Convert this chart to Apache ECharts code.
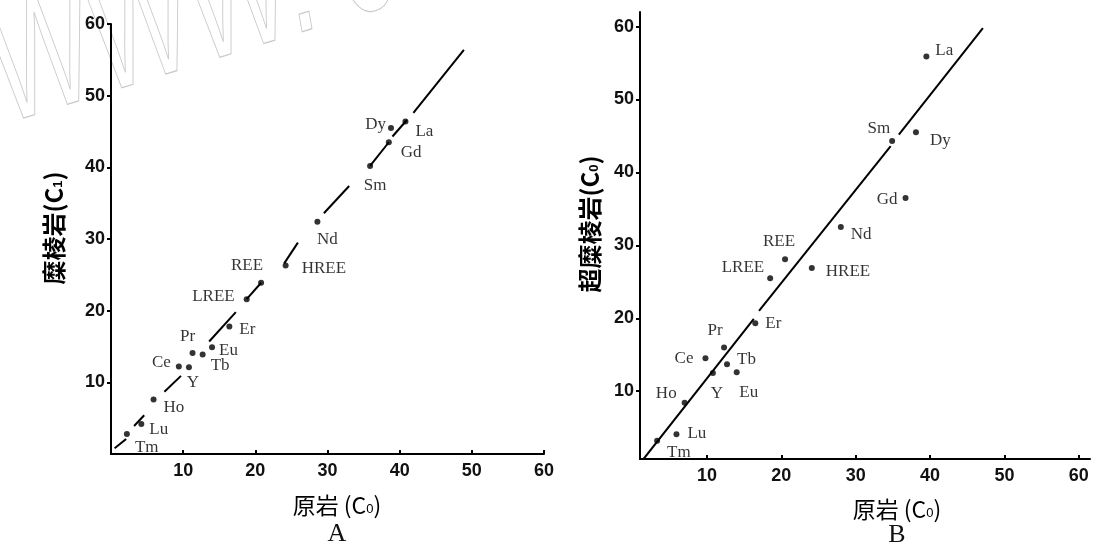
<!DOCTYPE html>
<html><head><meta charset="utf-8">
<script src="https://cdn.jsdelivr.net/npm/echarts@6/dist/echarts.min.js"></script>
<style>html,body{margin:0;padding:0;background:#fff}#c{width:1094px;height:548px}</style>
</head><body><div id="c"></div>
<script>
// ---- data ----
const elements = ['Tm','Lu','Ho','Ce','Y','Pr','Tb','Eu','Er','LREE','REE','HREE','Nd','Sm','Gd','Dy','La'];
// Panel A: protolith (C0) vs mylonite (C1)
const protolithA = [2.2, 4.2, 5.9, 9.4, 10.8, 11.3, 12.7, 14.0, 16.4, 18.8, 20.8, 24.2, 28.6, 35.9, 38.5, 38.8, 40.8];
const myloniteA  = [2.8, 4.2, 7.6, 12.2, 12.1, 14.1, 13.9, 14.9, 17.8, 21.6, 23.9, 26.3, 32.4, 40.2, 43.5, 45.5, 46.4];
// Panel B: protolith (C0) vs ultramylonite
const protolithB = [3.3, 5.9, 7.0, 9.8, 10.8, 12.3, 12.7, 14.0, 16.5, 18.5, 20.5, 24.1, 28.0, 34.9, 36.7, 38.1, 39.5];
const ultraB     = [3.2, 4.1, 8.4, 14.5, 12.5, 16.0, 13.7, 12.6, 19.3, 25.5, 28.1, 26.9, 32.5, 44.3, 36.5, 45.5, 55.9];
const tickValues = [10, 20, 30, 40, 50, 60];
// reference line pieces [x1, y1, x2, y2]
const lineA = [[0.5,0.8,2.1,2.1],[3.2,3.9,4.6,5.4],[7.4,8.7,9.7,10.9],[13.6,15.7,17.3,19.8],[18.8,21.6,20.8,23.9],
               [24.0,26.6,25.9,29.5],[29.5,33.6,33.0,37.4],[35.9,40.2,38.5,43.5],[39.0,44.3,41.0,46.6],[41.9,47.6,48.9,56.4]];
const lineB = [[1.4,0.6,16.3,19.9],[17.0,21.0,34.7,43.6],[35.8,45.2,47.1,59.8]];

// ---- label placement (style) ----
const labPosA = {Tm:['right',[0,14]],Lu:['right',[0,6]],Ho:['right',[2,8]],Ce:['left',[0,-4]],Y:['bottom',[4,-1]],
  Pr:['top',[-5,0]],Tb:['right',[0,11]],Eu:['right',[-1,3]],Er:['right',[2,3]],LREE:['left',[-4,-3]],REE:['left',[10,-17]],
  HREE:['right',[8,3]],Nd:['bottom',[10,1]],Sm:['bottom',[5,3]],Gd:['right',[4,10]],Dy:['left',[3,-3]],La:['right',[2,10]]};
const labPosB = {Tm:['right',[2,12]],Lu:['right',[3,-1]],Ho:['left',[0,-9]],Ce:['left',[-4,0]],Y:['bottom',[4,4]],
  Pr:['top',[-9,0]],Tb:['right',[2,-5]],Eu:['bottom',[12,4]],Er:['right',[2,0]],LREE:['left',[2,-11]],REE:['top',[-6,-1]],
  HREE:['right',[6,4]],Nd:['right',[2,7]],Sm:['left',[6,-13]],Gd:['left',[0,2]],Dy:['right',[6,8]],La:['right',[1,-6]]};

const serif = '"Liberation Serif", "DejaVu Serif", serif';
const sans = '"Liberation Sans", Arial, sans-serif';
const cjk = '"Noto Sans CJK SC", sans-serif';

function pts(xs, ys, pos) {
  return elements.map((n, i) => ({
    name: n, value: [xs[i], ys[i]],
    label: {show: true, formatter: n, position: pos[n][0], offset: pos[n][1], distance: 5}
  }));
}
function segSeries(segs, gi) {
  return segs.map(s => ({
    type: 'line', xAxisIndex: gi, yAxisIndex: gi, symbol: 'none', silent: true,
    lineStyle: {color: '#000', width: 2}, data: [[s[0], s[1]], [s[2], s[3]]], z: 2
  }));
}
const tickLabel = {customValues: tickValues, color: '#111', fontSize: 18, fontWeight: 'bold', fontFamily: sans};
function xAx(gi, min, max) {
  return {gridIndex: gi, type: 'value', min: min, max: max,
    axisLine: {show: true, onZero: false, lineStyle: {color: '#000', width: 2}},
    axisTick: {show: true, inside: true, length: 4, customValues: tickValues, lineStyle: {color: '#000', width: 2}},
    axisLabel: Object.assign({margin: 8}, tickLabel),
    splitLine: {show: false}};
}
function yAx(gi, min, max) {
  return {gridIndex: gi, type: 'value', min: min, max: max,
    axisLine: {show: true, onZero: false, lineStyle: {color: '#000', width: 2}},
    axisTick: {show: true, inside: false, length: 4, customValues: tickValues, lineStyle: {color: '#000', width: 2}},
    axisLabel: Object.assign({margin: 6}, tickLabel),
    splitLine: {show: false}};
}
const scatterStyle = {symbolSize: 6, itemStyle: {color: '#000'},
  label: {color: '#000', fontSize: 17, fontFamily: serif}, z: 3};

const subRich = {t: {fontSize: 23, fontFamily: cjk, color: '#111'}, s: {fontSize: 13, fontFamily: sans, color: '#111', padding: [8, 0, 0, 0]}};
const yRich = {t: {fontSize: 24, fontFamily: cjk, fontWeight: 'bold', color: '#111'}, s: {fontSize: 13, fontFamily: sans, fontWeight: 'bold', color: '#111', padding: [8, 0, 0, 0]}};

const option = {
  backgroundColor: '#fff',
  animation: false,
  grid: [{left: 111, top: 24, width: 433, height: 430}, {left: 640, top: 12, width: 450, height: 447}],
  xAxis: [xAx(0, 0, 60), xAx(1, 1, 61.5)],
  yAxis: [yAx(0, 0, 60), yAx(1, 0.7, 62)],
  series: [
    ...segSeries(lineA, 0),
    ...segSeries(lineB, 1),
    Object.assign({type: 'scatter', xAxisIndex: 0, yAxisIndex: 0, data: pts(protolithA, myloniteA, labPosA)}, scatterStyle),
    Object.assign({type: 'scatter', xAxisIndex: 1, yAxisIndex: 1, data: pts(protolithB, ultraB, labPosB)}, scatterStyle)
  ],
  graphic: [
    {type: 'text', x: 18, y: 158, rotation: 0.3, scaleX: 0.66, silent: true, z: 0,
      style: {text: 'WWW. J', font: 'italic 165px ' + sans, fill: 'rgba(0,0,0,0)', stroke: '#c8c8c8', lineWidth: 1.2, textVerticalAlign: 'bottom'}},
    {type: 'text', x: 337, y: 505, style: {text: '{t|原岩 (C}{s|0}{t|)}', rich: subRich, align: 'center', verticalAlign: 'middle'}},
    {type: 'text', x: 337, y: 534, style: {text: 'A', font: '26px ' + serif, fill: '#111', align: 'center', verticalAlign: 'middle'}},
    {type: 'text', x: 897, y: 509, style: {text: '{t|原岩 (C}{s|0}{t|)}', rich: subRich, align: 'center', verticalAlign: 'middle'}},
    {type: 'text', x: 897, y: 535, style: {text: 'B', font: '26px ' + serif, fill: '#111', align: 'center', verticalAlign: 'middle'}},
    {type: 'text', x: 54, y: 228, rotation: Math.PI / 2, style: {text: '{t|糜棱岩(C}{s|1}{t|)}', rich: yRich, align: 'center', verticalAlign: 'middle'}},
    {type: 'text', x: 590, y: 224, rotation: Math.PI / 2, style: {text: '{t|超糜棱岩(C}{s|0}{t|)}', rich: yRich, align: 'center', verticalAlign: 'middle'}}
  ]
};
const chart = echarts.init(document.getElementById('c'), null, {renderer: 'canvas'});
chart.setOption(option);
</script></body></html>
